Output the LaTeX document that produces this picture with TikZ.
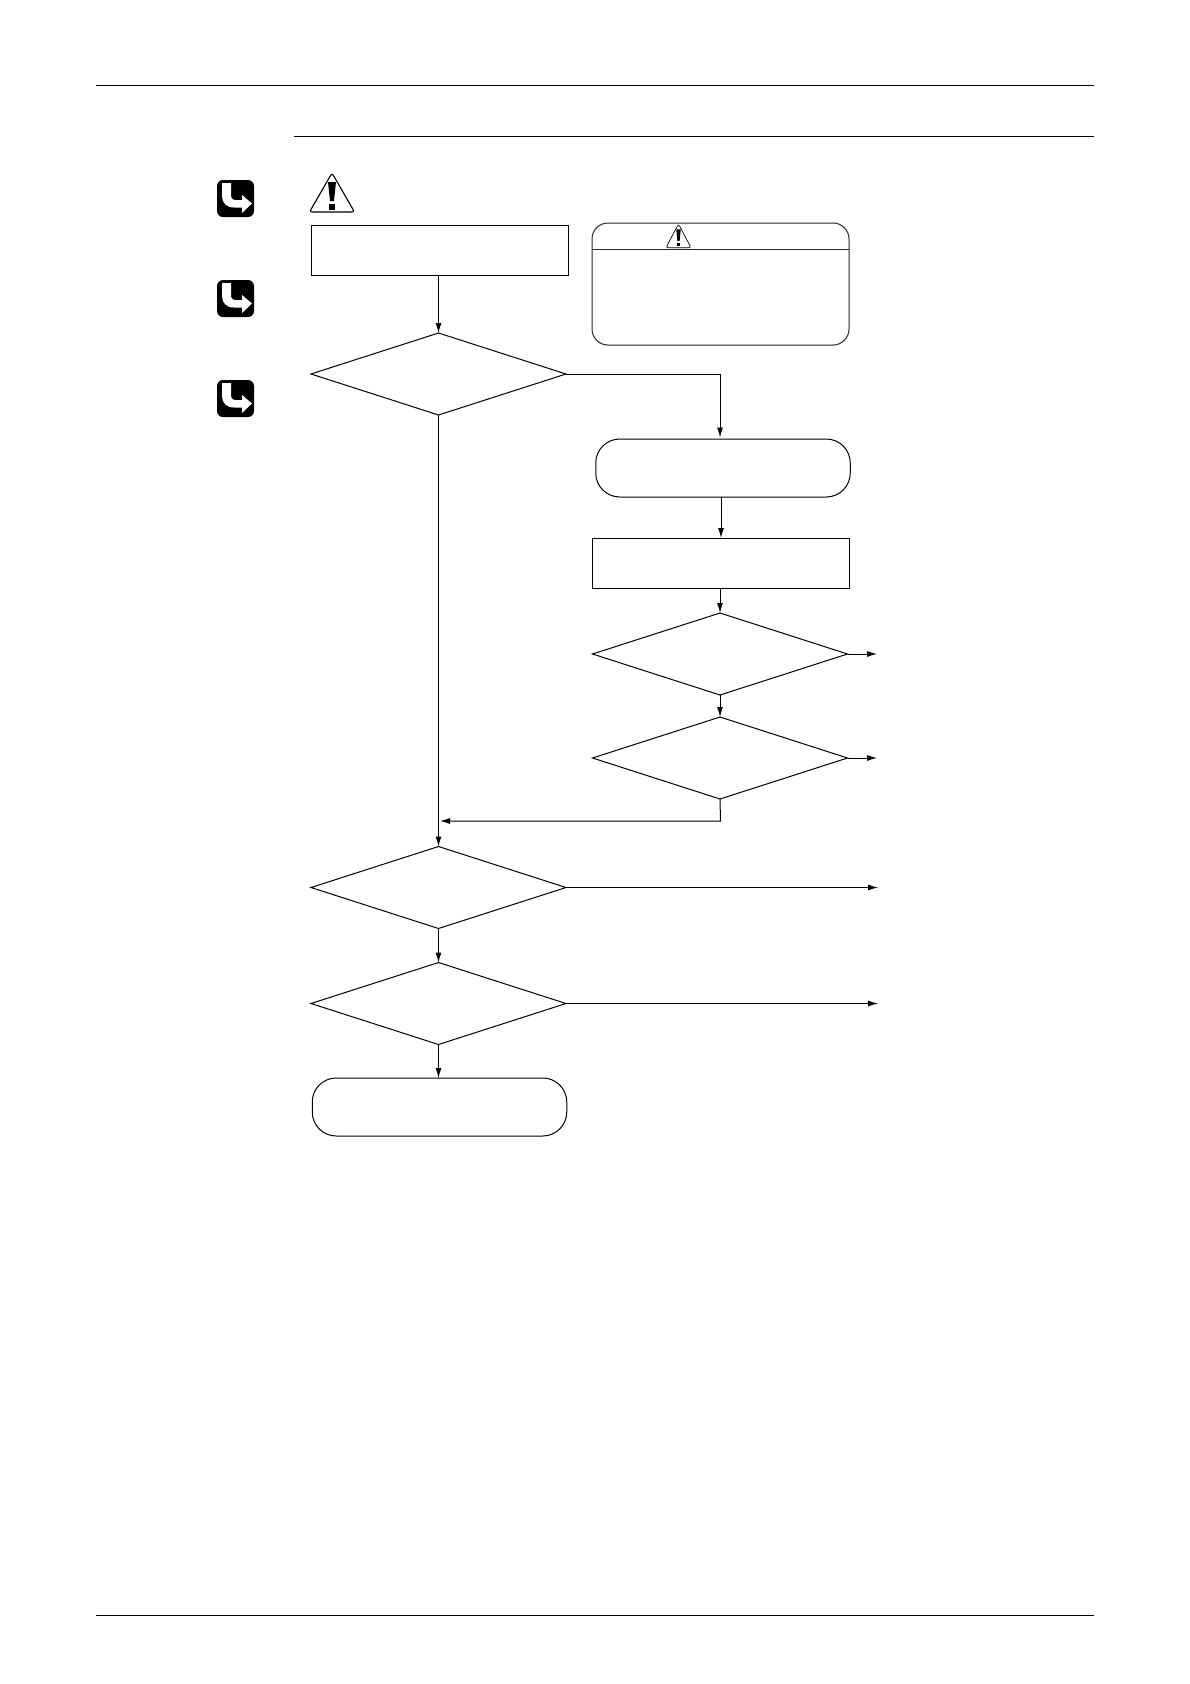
\documentclass[tikz,border=0pt]{standalone}
\usetikzlibrary{shapes.geometric,arrows.meta}
\tikzset{
  x=1pt,y=-1pt,
  flowline/.style={line width=1pt,draw=black},
  arrowline/.style={flowline,-{Latex[length=10pt,width=6pt]},shorten >=0pt},
  rulerline/.style={line width=1pt,draw=black},
  choice/.style={diamond,draw=black,line width=1pt,inner sep=0pt,outer sep=0pt,shape aspect=3.11,minimum width=255pt,minimum height=82pt},
  procbox/.style={rectangle,draw=black,line width=1pt,inner sep=0pt,outer sep=0pt},
  termbox/.style={rectangle,rounded corners=24pt,draw=black,line width=1pt,inner sep=0pt,outer sep=0pt,minimum width=254.5pt,minimum height=58pt},
  notebox/.style={rectangle,rounded corners=16pt,draw=black!85,line width=1pt,inner sep=0pt,outer sep=0pt},
  iconbox/.style={rectangle,rounded corners=6pt,fill=black,inner sep=0pt,outer sep=0pt,minimum width=37pt,minimum height=37pt},
  warnsign/.style={},
  warnpic/.pic={
    \draw[line width=\pgfkeysvalueof{/tikz/warnwidth},line join=round,rounded corners=2.5pt,fill=white] (0,0) -- (22.5,39) -- (-22.5,39) -- cycle;
    \fill[black] (-4,9) -- (4,9) -- (2,28) -- (-2,28) -- cycle;
    \fill[black] (-2.8,30.5) rectangle (2.8,36.5);
  },
  warnwidth/.initial=1.1pt,
  jumparrow/.pic={
    \fill[white] (5,3) -- (14,3) -- (14,15) .. controls (14,18.5) and (15.5,20) .. (19,20) -- (25,20) -- (25,15) -- (35,23.5) -- (25,33) -- (25,27.5) -- (17,27.5) .. controls (9.5,27.5) and (5,23) .. (5,16) -- cycle;
  }
}
\begin{document}
\begin{tikzpicture}
\fill[white] (0,0) rectangle (1190,1684);
\useasboundingbox (0,0) rectangle (1190,1684);
% page rules
\coordinate (ruleAa) at (96,85);
\coordinate (ruleAb) at (1094,85);
\coordinate (ruleBa) at (294,136.5);
\coordinate (ruleBb) at (1094,136.5);
\coordinate (ruleCa) at (96,1615);
\coordinate (ruleCb) at (1094,1615);
\draw[rulerline] (ruleAa) -- (ruleAb);
\draw[rulerline] (ruleBa) -- (ruleBb);
\draw[rulerline] (ruleCa) -- (ruleCb);
% side icons
\node[iconbox] (iconA) at (235.5,198.5) {};
\node[iconbox] (iconB) at (235.5,298.5) {};
\node[iconbox] (iconC) at (235.5,398.5) {};
\pic at (217,180) {jumparrow};
\pic at (217,280) {jumparrow};
\pic at (217,380) {jumparrow};
% warning sign
\pic at (332,173) {warnpic};
% caution note
\node[notebox,minimum width=257pt,minimum height=122pt] (note) at (720.5,284) {};
\coordinate (noteDiv) at (720,249);
\draw[line width=1pt,draw=black!85] (note.west |- noteDiv) -- (note.east |- noteDiv);
\pic[xscale=0.56,yscale=0.61,warnwidth=0.7pt] at (678.5,224) {warnpic};
% left column
\node[procbox,minimum width=257pt,minimum height=50pt] (start) at (439.5,250) {};
\node[choice] (qA) at (438.5,374) {};
\node[choice] (qD) at (438.5,887.5) {};
\node[choice] (qE) at (438.5,1003.5) {};
\node[termbox] (finish) at (439.5,1107) {};
% right column
\node[termbox] (action) at (723,468) {};
\node[procbox,minimum width=257pt,minimum height=50pt] (reset) at (721,563) {};
\node[choice] (qB) at (720,654) {};
\node[choice] (qC) at (720,758) {};
% free ends
\coordinate (capA) at (720,437.5);
\coordinate (capB) at (877,654);
\coordinate (capC) at (877,758);
\coordinate (capD) at (878,887.5);
\coordinate (capE) at (878,1003.5);
\coordinate (joinC) at (720.5,821);
% connectors
\draw[arrowline] (start.south -| qA.north) -- (qA.north);
\draw[arrowline] (qA.east) -| (capA);
\draw[flowline] (qA.south) -- (qD.north |- joinC);
\draw[arrowline] (qD.north |- joinC) -- (qD.north);
\draw[arrowline] (action.south -| reset.north) -- (reset.north);
\draw[arrowline] (reset.south -| qB.north) -- (qB.north);
\draw[arrowline] (qB.south) -- (qC.north);
\draw[arrowline] (qB.east) -- (capB);
\draw[arrowline] (qC.east) -- (capC);
\draw[arrowline] (qC.south) -- (joinC) -- ([xshift=1.5pt]qD.north |- joinC);
\draw[arrowline] (qD.east) -- (capD);
\draw[arrowline] (qE.east) -- (capE);
\draw[arrowline] (qD.south) -- (qE.north);
\draw[arrowline] (qE.south) -- (finish.north -| qE.south);
\end{tikzpicture}
\end{document}
